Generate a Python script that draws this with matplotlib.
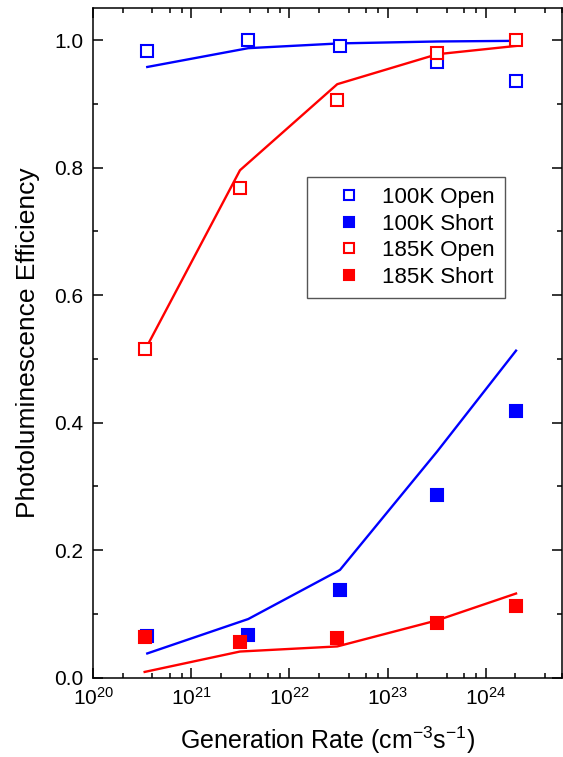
import numpy as np
import matplotlib.pyplot as plt
from matplotlib.ticker import LogLocator, MultipleLocator

plt.rcParams['font.family'] = ['Liberation Sans', 'DejaVu Sans']
plt.rcParams['mathtext.fontset'] = 'custom'
plt.rcParams['mathtext.rm'] = 'Liberation Sans'

# Generation rate (cm^-3 s^-1)
g_100 = [3.55e20, 3.8e21, 3.27e22, 3.21e23, 2.04e24]
g_185 = [3.34e20, 3.13e21, 3.07e22, 3.21e23, 2.04e24]

# Measured PL efficiency
open_100 = [0.983, 1.0, 0.991, 0.966, 0.936]
short_100 = [0.066, 0.067, 0.137, 0.286, 0.419]
open_185 = [0.516, 0.768, 0.906, 0.980, 1.0]
short_185 = [0.064, 0.056, 0.062, 0.086, 0.113]

# Model curves
fit_open_100 = [0.958, 0.9875, 0.995, 0.998, 0.999]
fit_short_100 = [0.038, 0.092, 0.169, 0.355, 0.513]
fit_open_185 = [0.513, 0.796, 0.931, 0.978, 0.991]
fit_short_185 = [0.009, 0.041, 0.049, 0.090, 0.132]

blue = '#0000ff'
red = '#ff0000'

fig = plt.figure(figsize=(5.63, 7.57), dpi=100)
ax = fig.add_axes([0.1657, 0.1048, 0.8325, 0.8842])

lw = 1.7
ax.plot(g_100, fit_open_100, color=blue, lw=lw, zorder=2)
ax.plot(g_100, fit_short_100, color=blue, lw=lw, zorder=2)
ax.plot(g_185, fit_open_185, color=red, lw=lw, zorder=2)
ax.plot(g_185, fit_short_185, color=red, lw=lw, zorder=2)

ms = 8
mew = 1.5
ax.plot(g_100, open_100, 's', ms=ms, mew=mew, mec=blue, mfc='white',
        label='100K Open', zorder=3)
ax.plot(g_100, short_100, 's', ms=ms, mew=mew, mec=blue, mfc=blue,
        label='100K Short', zorder=3)
ax.plot(g_185, open_185, 's', ms=ms, mew=mew, mec=red, mfc='white',
        label='185K Open', zorder=4)
ax.plot(g_185, short_185, 's', ms=ms, mew=mew, mec=red, mfc=red,
        label='185K Short', zorder=4)

ax.set_xscale('log')
ax.set_xlim(1e20, 6e24)
ax.set_ylim(0, 1.05)
ax.xaxis.set_major_locator(LogLocator(base=10, numticks=10))
ax.xaxis.set_minor_locator(LogLocator(base=10, subs=[2, 4, 6, 8], numticks=20))
ax.yaxis.set_major_locator(MultipleLocator(0.2))
ax.yaxis.set_minor_locator(MultipleLocator(0.1))
ax.yaxis.set_major_formatter(plt.FormatStrFormatter('%.1f'))

ax.tick_params(which='both', direction='in', top=True, right=True,
               width=1.1, labelsize=15, pad=7)
ax.tick_params(which='major', length=7)
ax.tick_params(which='minor', length=3.6)
for s in ax.spines.values():
    s.set_linewidth(1.1)

ax.set_xlabel('Generation Rate (cm$^{-3}$s$^{-1}$)', fontsize=18, labelpad=11)
ax.set_ylabel('Photoluminescence Efficiency', fontsize=19, labelpad=10)

leg = ax.legend(loc='upper left', bbox_to_anchor=(0.455, 0.748),
                borderaxespad=0, fontsize=16, markerscale=0.85,
                handlelength=2.9, handletextpad=0.05, borderpad=0.45,
                labelspacing=0.25, fancybox=False, framealpha=1)
leg.get_frame().set_edgecolor('#555555')
leg.get_frame().set_linewidth(1.0)

fig.savefig('out.png', dpi=100)
